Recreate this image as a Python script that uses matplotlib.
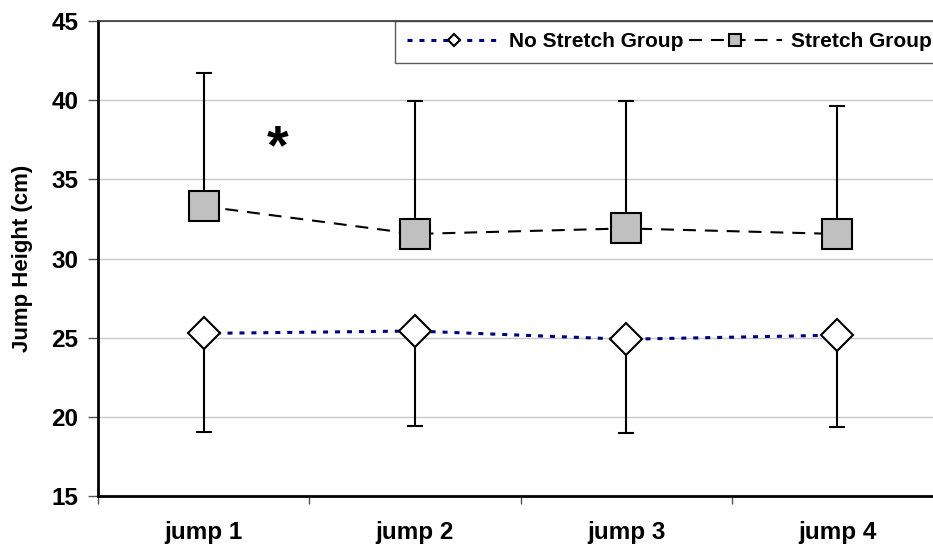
import matplotlib
matplotlib.use("Agg")
import matplotlib.pyplot as plt
import numpy as np

categories = ["jump 1", "jump 2", "jump 3", "jump 4"]
no_stretch_mean = [25.27, 25.42, 24.90, 25.16]
no_stretch_sd = [6.2, 6.0, 5.95, 5.83]
stretch_mean = [33.3, 31.55, 31.9, 31.55]
stretch_sd = [8.4, 8.4, 8.05, 8.1]
y_ticks = [15, 20, 25, 30, 35, 40, 45]

plt.rcParams['font.family'] = ['Liberation Sans', 'DejaVu Sans']
plt.rcParams['font.weight'] = 'bold'

fig = plt.figure(figsize=(9.33, 5.49), dpi=100)
W, H = 933, 549
left, right, top, bottom = 98, 943, 21, 496
ax = fig.add_axes([left / W, (H - bottom) / H, (right - left) / W, (bottom - top) / H])

x = np.arange(len(categories))

ax.set_ylim(15, 45)
ax.set_xlim(-0.5, 3.5)
ax.set_yticks(y_ticks)
ax.yaxis.grid(True, color='#c8c8c8', linewidth=1.0)
ax.set_axisbelow(True)

# Stretch group
ax.errorbar(x, stretch_mean, yerr=[np.zeros(4), stretch_sd], fmt='none',
            ecolor='black', elinewidth=1.5, capsize=5.5, capthick=1.5, zorder=3)
ln2, = ax.plot(x, stretch_mean, color='black', linewidth=1.5, dashes=(6.2, 4.3),
               marker='s', markersize=21, markerfacecolor='#c0c0c0',
               markeredgecolor='black', markeredgewidth=1.5, zorder=4,
               label='Stretch Group')

# No stretch group
ax.errorbar(x, no_stretch_mean, yerr=[no_stretch_sd, np.zeros(4)], fmt='none',
            ecolor='black', elinewidth=1.5, capsize=5.5, capthick=1.5, zorder=3)
ln1, = ax.plot(x, no_stretch_mean, color='#000080', linewidth=2.2, dashes=(1.64, 2.27),
               marker='D', markersize=16, markerfacecolor='white',
               markeredgecolor='black', markeredgewidth=1.5, zorder=4,
               label='No Stretch Group')

ax.text(0.35, 36.9, '*', fontsize=40, fontweight='bold', ha='center', va='center')

for s in ['left', 'bottom']:
    ax.spines[s].set_linewidth(2.0)
    ax.spines[s].set_color('black')
ax.spines['top'].set_linewidth(1.2)
ax.spines['top'].set_color('#333333')
ax.spines['right'].set_visible(False)

ax.set_xticks(x)
ax.set_xticklabels(categories, fontsize=17.5, fontweight='bold')
ax.tick_params(axis='x', which='major', length=0, pad=18)
ax.set_xticks([-0.5, 0.5, 1.5, 2.5, 3.5], minor=True)
ax.tick_params(axis='x', which='minor', length=6, width=1, color='#555555')
ax.tick_params(axis='y', which='major', length=7, width=1, color='#555555',
               labelsize=17.5, pad=7)
for lbl in ax.get_yticklabels():
    lbl.set_fontweight('bold')

ax.set_ylabel('Jump Height (cm)', fontsize=16, fontweight='bold', labelpad=13)

leg = ax.legend(handles=[ln1, ln2], loc='upper right', bbox_to_anchor=(1.0, 1.0),
                ncol=2, frameon=True, fancybox=False, borderaxespad=0,
                prop={'weight': 'bold', 'size': 15}, markerscale=0.38,
                handlelength=4.5, handletextpad=0.4, columnspacing=0.25,
                borderpad=0.55)
leg.get_frame().set_edgecolor('#333333')
leg.get_frame().set_linewidth(1.0)

fig.savefig('out.png', dpi=100)
